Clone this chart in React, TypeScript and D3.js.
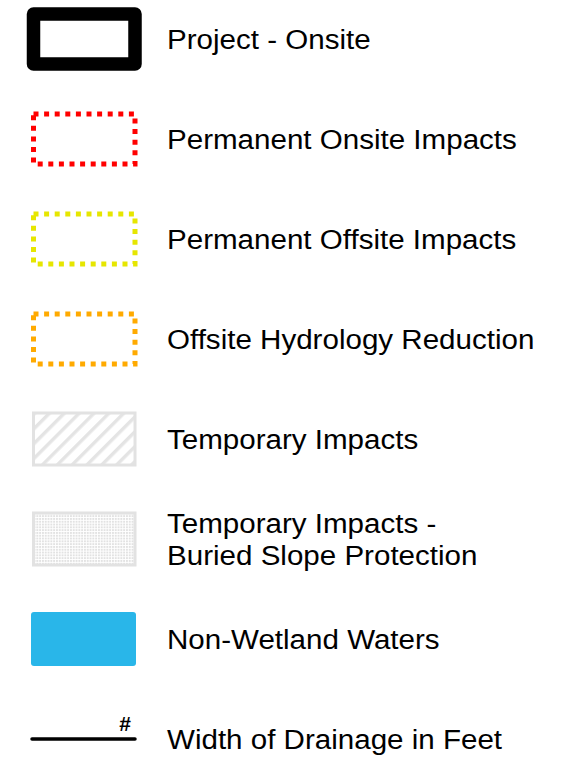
import React from 'react';
import * as d3 from 'd3';

// legend entries, top to bottom
const labels = [
  ['Project - Onsite'],
  ['Permanent Onsite Impacts'],
  ['Permanent Offsite Impacts'],
  ['Offsite Hydrology Reduction'],
  ['Temporary Impacts'],
  ['Temporary Impacts -', 'Buried Slope Protection'],
  ['Non-Wetland Waters'],
  ['Width of Drainage in Feet'],
];
const symbols = ['project', 'dotRed', 'dotYellow', 'dotOrange', 'hatch', 'stipple', 'water', 'drain'];
const drainLabel = '#';

const W = 572;
const H = 761;

function App() {
  const keys = symbols;
  const y = d3.scalePoint<string>().domain(keys).range([39, 739]);
  const x0 = 33.5;
  const bw = 101.5;
  const bh = 50;
  const textX = 167;
  const font = "'Liberation Sans', Arial, sans-serif";

  const dotColor: Record<string, string> = {
    dotRed: '#ff0000',
    dotYellow: '#e6e600',
    dotOrange: '#ffaa00',
  };

  const drawSymbol = (k: string) => {
    const cy = y(k) as number;
    if (k === 'project') {
      return (
        <rect x={x0} y={cy - bh / 2} width={bw} height={bh} fill="#fff"
          stroke="#000" strokeWidth={13.5} strokeLinejoin="round" />
      );
    }
    if (k in dotColor) {
      return (
        <rect x={x0} y={cy - bh / 2} width={bw} height={bh} fill="none"
          stroke={dotColor[k]} strokeWidth={5} strokeDasharray="5 5.6" />
      );
    }
    if (k === 'hatch') {
      return (
        <rect x={x0} y={cy - 26} width={bw} height={52} fill="url(#hatch)"
          stroke="#e2e2e2" strokeWidth={3} />
      );
    }
    if (k === 'stipple') {
      return (
        <rect x={x0} y={cy - 26} width={bw} height={52} fill="url(#stipple)"
          stroke="#e2e2e2" strokeWidth={3} />
      );
    }
    if (k === 'water') {
      return <rect x={31} y={cy - 27} width={105} height={54} rx={3} fill="#29b6e9" />;
    }
    return (
      <g>
        <line x1={32} x2={135} y1={cy} y2={cy} stroke="#000" strokeWidth={3.5} strokeLinecap="round" />
        <text x={125} y={cy - 8} textAnchor="middle" fontFamily={font} fontWeight="bold" fontSize={21}>
          {drainLabel}
        </text>
      </g>
    );
  };

  return (
    <svg width={W} height={H} style={{ position: 'absolute', left: 0, top: 0 }}>
      <defs>
        <pattern id="hatch" patternUnits="userSpaceOnUse" width={10.5} height={10.5}
          patternTransform="rotate(45)">
          <rect x={0} y={0} width={3.4} height={10.5} fill="#e4e4e4" />
        </pattern>
        <pattern id="stipple" patternUnits="userSpaceOnUse" width={2.8} height={2.8}>
          <rect x={0} y={0} width={1.9} height={1.9} fill="#e2e2e2" />
        </pattern>
      </defs>
      <rect width={W} height={H} fill="#fff" />
      {keys.map((k, i) => {
        const cy = y(k) as number;
        const lines = labels[i];
        const lh = 32;
        const base = cy + 10.5 - ((lines.length - 1) * lh) / 2;
        return (
          <g key={k}>
            {drawSymbol(k)}
            <g transform={`translate(${textX},0) scale(1.095,1)`}>
              <text x={0} fontFamily={font} fontSize={27} fill="#000">
                {lines.map((t, j) => (
                  <tspan key={j} x={0} y={base + j * lh}>{t}</tspan>
                ))}
              </text>
            </g>
          </g>
        );
      })}
    </svg>
  );
}

export default App;
